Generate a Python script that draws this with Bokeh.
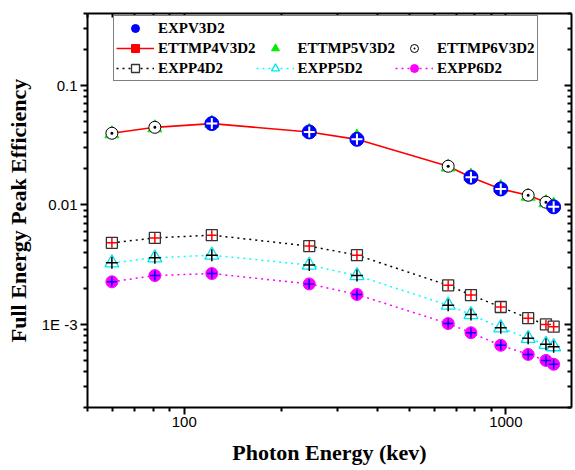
from bokeh.plotting import figure
from bokeh.models import FixedTicker, LogAxis, Legend, LegendItem, CustomJSTickFormatter
from bokeh.embed import file_html
from bokeh.resources import INLINE

# ---------------- data ----------------
energy = [59.54, 80.99, 121.78, 244.70, 344.28, 661.66, 778.90, 964.08, 1173.23, 1332.49, 1408.01]
eu_energy = [121.78, 244.70, 344.28, 778.90, 964.08, 1408.01]

expv3d2 = [0.0478, 0.0407, 0.0353, 0.0170, 0.01355, 0.0096]
ettmp4v3d2 = [0.0397, 0.0445, 0.0478, 0.0407, 0.0353, 0.0210, 0.0170, 0.01355, 0.0120, 0.0105, 0.0096]
ettmp5v3d2 = [0.0393, 0.0441, 0.0482, 0.0412, 0.0368, 0.0207, 0.0173, 0.0139, 0.0118, 0.0104, 0.0099]
ettmp6v3d2 = [0.0397, 0.0445, 0.0478, 0.0407, 0.0353, 0.0210, 0.0170, 0.01355, 0.0120, 0.0105, 0.0096]

expp4d2 = [0.00479, 0.00527, 0.00556, 0.00450, 0.00378, 0.00211, 0.00175, 0.00139, 0.00112, 0.000993, 0.000951]
expp5d2 = [0.00326, 0.00359, 0.00378, 0.00312, 0.00255, 0.00144, 0.00120, 0.000931, 0.000759, 0.000676, 0.000646]
expp6d2 = [0.00226, 0.00255, 0.00265, 0.00217, 0.00177, 0.00101, 0.000846, 0.000664, 0.000557, 0.000496, 0.000460]

x_tick_values = [100, 1000]
x_tick_labels = ["100", "1000"]
y_tick_values = [0.001, 0.01, 0.1]
y_tick_labels = ["1E -3", "0.01", "0.1"]

x_title = "Photon Energy (kev)"
y_title = "Full Energy Peak Efficiency"

# ---------------- ticks ----------------
x_minor = [m * 10 ** e for e in (1, 2) for m in range(2, 10)] + [m * 1000 for m in range(2, 10)]
y_minor = [m * 10.0 ** e for e in (-4, -3, -2, -1) for m in range(2, 10)]

fmt_code = """
for (let i = 0; i < vals.length; i++) {
  if (Math.abs(Math.log10(tick) - Math.log10(vals[i])) < 1e-6) return labs[i];
}
return "";
"""

def xticker():
    return FixedTicker(ticks=x_tick_values, minor_ticks=x_minor)

def yticker():
    return FixedTicker(ticks=y_tick_values, minor_ticks=y_minor)

p = figure(width=575, height=470, x_axis_type="log", y_axis_type="log",
           x_range=(50, 1600), y_range=(2e-4, 0.4),
           output_backend="svg", toolbar_location=None,
           min_border_left=87, min_border_right=4, min_border_top=13, min_border_bottom=63)
p.grid.visible = False
p.outline_line_color = None
p.background_fill_color = "white"
p.border_fill_color = "white"

def style_main(ax):
    ax.axis_line_width = 2
    ax.axis_line_color = "black"
    ax.major_tick_line_width = 2
    ax.minor_tick_line_width = 2
    ax.major_tick_out = 7
    ax.major_tick_in = 0
    ax.minor_tick_out = 4
    ax.minor_tick_in = 0
    ax.major_label_text_font = "Liberation Sans"
    ax.major_label_text_font_size = "15px"
    ax.major_label_text_color = "black"
    ax.axis_label_text_font = "Liberation Serif"
    ax.axis_label_text_font_style = "bold"
    ax.axis_label_text_font_size = "22px"
    ax.axis_label_text_color = "black"

xa = p.xaxis[0]
xa.ticker = xticker()
xa.formatter = CustomJSTickFormatter(args=dict(vals=x_tick_values, labs=x_tick_labels), code=fmt_code)
style_main(xa)
xa.major_label_standoff = 2
xa.axis_label = x_title
xa.axis_label_standoff = 10

ya = p.yaxis[0]
ya.ticker = yticker()
ya.formatter = CustomJSTickFormatter(args=dict(vals=y_tick_values, labs=y_tick_labels), code=fmt_code)
style_main(ya)
ya.major_label_standoff = 3
ya.axis_label = y_title
ya.axis_label_standoff = 8

def style_mirror(ax):
    ax.axis_line_width = 2
    ax.axis_line_color = "black"
    ax.major_tick_line_width = 2
    ax.minor_tick_line_width = 2
    ax.major_tick_in = 7
    ax.major_tick_out = 0
    ax.minor_tick_in = 4
    ax.minor_tick_out = 0
    ax.major_label_text_font_size = "1px"
    ax.major_label_text_alpha = 0
    ax.major_label_standoff = 0

top = LogAxis(ticker=xticker())
style_mirror(top)
p.add_layout(top, "above")
right = LogAxis(ticker=yticker())
style_mirror(right)
p.add_layout(right, "right")

# ---------------- upper group ----------------
r4l = p.line(energy, ettmp4v3d2, line_color="#ff0000", line_width=1.6)
r4m = p.scatter(energy, ettmp4v3d2, marker="square", size=8, fill_color="#ff0000", line_color="#ff0000")
r5 = p.scatter(energy, ettmp5v3d2, marker="triangle", size=14, fill_color="#00ee00", line_color="#00ee00")
r6 = p.scatter(energy, ettmp6v3d2, marker="circle_dot", size=12, fill_color="white",
               line_color="black", line_width=1)
rv = p.scatter(eu_energy, expv3d2, marker="circle", size=14, fill_color="#0000ff", line_color="#0000ff")
p.scatter(eu_energy, expv3d2, marker="cross", size=11, line_color="white", line_width=2)

# ---------------- lower group ----------------
rp4l = p.line(energy, expp4d2, line_color="black", line_width=1.5, line_dash="2 4")
rp5l = p.line(energy, expp5d2, line_color="#00ffff", line_width=1.5, line_dash="2 4")
rp6l = p.line(energy, expp6d2, line_color="#ff00ff", line_width=1.5, line_dash="2 4")

rp4m = p.scatter(energy, expp4d2, marker="square", size=11, fill_color="white",
                 line_color="#333333", line_width=1.3)
p.scatter(energy, expp4d2, marker="cross", size=10, line_color="red", line_width=1.5)

rp5m = p.scatter(energy, expp5d2, marker="triangle", size=14, fill_color="white",
                 line_color="#00e5ee", line_width=1.3)
p.scatter(energy, expp5d2, marker="cross", size=12, line_color="black", line_width=1.5)

rp6m = p.scatter(energy, expp6d2, marker="circle", size=12, fill_color="#ff00ff", line_color="#ff00ff")
p.scatter(energy, expp6d2, marker="cross", size=10, line_color="#0000ff", line_width=1.5)

blank = p.scatter(x=[], y=[], marker="circle", size=0, fill_alpha=0, line_alpha=0)

items = [
    LegendItem(label="EXPV3D2", renderers=[rv]),
    LegendItem(label=" ", renderers=[blank]),
    LegendItem(label=" ", renderers=[blank]),
    LegendItem(label="ETTMP4V3D2", renderers=[r4l, r4m]),
    LegendItem(label="ETTMP5V3D2", renderers=[r5]),
    LegendItem(label="ETTMP6V3D2", renderers=[r6]),
    LegendItem(label="EXPP4D2", renderers=[rp4l, rp4m]),
    LegendItem(label="EXPP5D2", renderers=[rp5l, rp5m]),
    LegendItem(label="EXPP6D2", renderers=[rp6l, rp6m]),
]
legend = Legend(items=items, orientation="horizontal", ncols=3, location=(26, 326),
                label_text_font="Liberation Serif", label_text_font_style="bold",
                label_text_font_size="15px", label_text_color="black",
                glyph_width=38, glyph_height=20, label_height=20, label_standoff=4,
                spacing=0, padding=2, margin=0,
                border_line_color="black", border_line_width=1,
                background_fill_color="white", background_fill_alpha=1)
p.add_layout(legend)

open("out.html", "w").write(file_html(p, INLINE))
